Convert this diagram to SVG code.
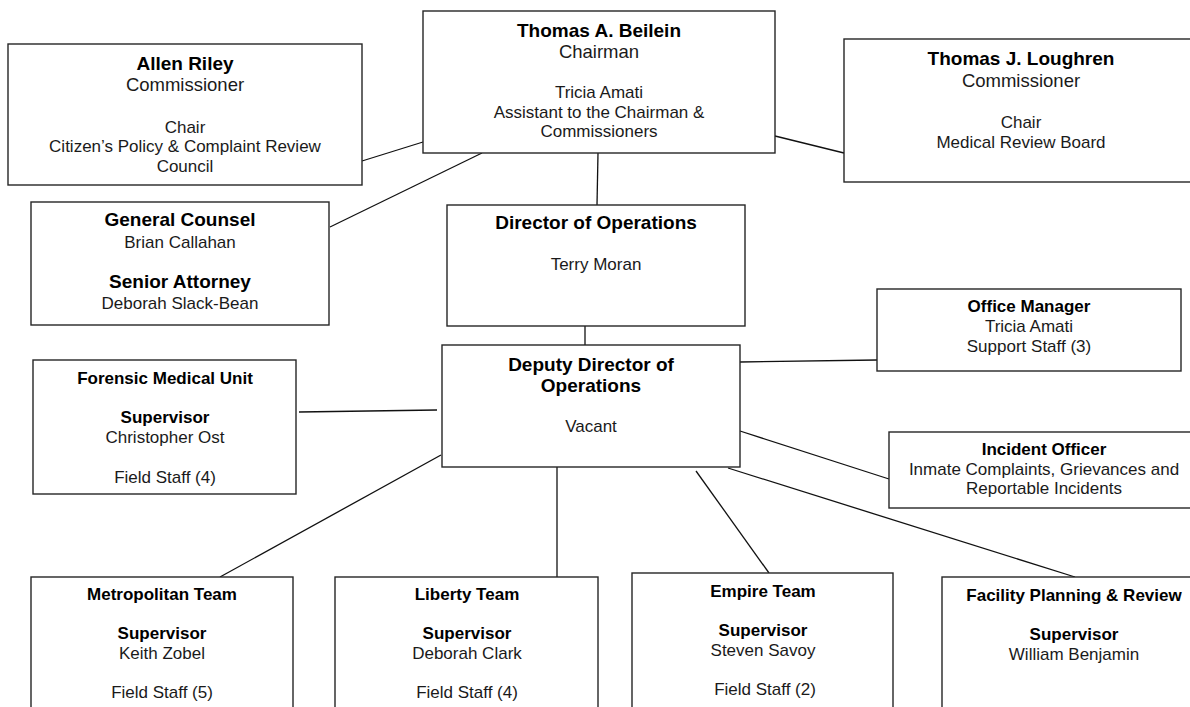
<svg xmlns="http://www.w3.org/2000/svg" width="1190" height="707" viewBox="0 0 1190 707">
<style>
.box{fill:#fff;stroke:#262626;stroke-width:1.4}
text{font-family:"Liberation Sans",Arial,sans-serif;text-anchor:middle;fill:#1a1a1a}
.h1{font-size:19px;font-weight:bold;fill:#000}
.s1{font-size:18.5px}
.h2{font-size:17px;font-weight:bold;fill:#000}
.t{font-size:17px}
.ln{stroke:#111;stroke-width:1.3;fill:none}
</style>
<rect width="1190" height="707" fill="#fff"/>
<g id="connectors">
<line class="ln" x1="362" y1="161" x2="423" y2="142"/>
<line class="ln" x1="330" y1="227" x2="482" y2="153"/>
<line class="ln" x1="598" y1="153" x2="597" y2="205"/>
<line class="ln" x1="775" y1="136" x2="844" y2="153"/>
<line class="ln" x1="585" y1="326" x2="585" y2="345"/>
<line class="ln" x1="740" y1="362" x2="877" y2="360"/>
<line class="ln" x1="299" y1="412" x2="437" y2="410"/>
<line class="ln" x1="740" y1="431" x2="889" y2="479"/>
<line class="ln" x1="441" y1="455" x2="220" y2="577"/>
<line class="ln" x1="557" y1="467" x2="557" y2="577"/>
<line class="ln" x1="696" y1="471" x2="769" y2="573"/>
<line class="ln" x1="728" y1="468" x2="1075" y2="577"/>
</g>
<g id="riley">
<rect class="box" x="8" y="44" width="354" height="141"/>
<text x="185" y="70" class="h1">Allen Riley</text>
<text x="185" y="91" class="s1">Commissioner</text>
<text x="185" y="133" class="t">Chair</text>
<text x="185" y="152" class="t">Citizen’s Policy &amp; Complaint Review</text>
<text x="185" y="172" class="t">Council</text>
</g>
<g id="beilein">
<rect class="box" x="423" y="11" width="352" height="142"/>
<text x="599" y="37" class="h1">Thomas A. Beilein</text>
<text x="599" y="58" class="s1">Chairman</text>
<text x="599" y="98" class="t">Tricia Amati</text>
<text x="599" y="118" class="t">Assistant to the Chairman &amp;</text>
<text x="599" y="137" class="t">Commissioners</text>
</g>
<g id="loughren">
<rect class="box" x="844" y="39" width="360" height="143"/>
<text x="1021" y="65" class="h1">Thomas J. Loughren</text>
<text x="1021" y="87" class="s1">Commissioner</text>
<text x="1021" y="128" class="t">Chair</text>
<text x="1021" y="148" class="t">Medical Review Board</text>
</g>
<g id="counsel">
<rect class="box" x="31" y="202" width="298" height="123"/>
<text x="180" y="226" class="h1">General Counsel</text>
<text x="180" y="248" class="t">Brian Callahan</text>
<text x="180" y="288" class="h1">Senior Attorney</text>
<text x="180" y="309" class="t">Deborah Slack-Bean</text>
</g>
<g id="director">
<rect class="box" x="447" y="205" width="298" height="121"/>
<text x="596" y="229" class="h1">Director of Operations</text>
<text x="596" y="270" class="t">Terry Moran</text>
</g>
<g id="deputy">
<rect class="box" x="442" y="345" width="298" height="122"/>
<text x="591" y="371" class="h1">Deputy Director of</text>
<text x="591" y="392" class="h1">Operations</text>
<text x="591" y="432" class="t">Vacant</text>
</g>
<g id="office">
<rect class="box" x="877" y="289" width="304" height="82"/>
<text x="1029" y="312" class="h2">Office Manager</text>
<text x="1029" y="332" class="t">Tricia Amati</text>
<text x="1029" y="352" class="t">Support Staff (3)</text>
</g>
<g id="incident">
<rect class="box" x="889" y="432" width="310" height="76"/>
<text x="1044" y="455" class="h2">Incident Officer</text>
<text x="1044" y="475" class="t">Inmate Complaints, Grievances and</text>
<text x="1044" y="494" class="t">Reportable Incidents</text>
</g>
<g id="forensic">
<rect class="box" x="33" y="360" width="263" height="134"/>
<text x="165" y="384" class="h2">Forensic Medical Unit</text>
<text x="165" y="423" class="h2">Supervisor</text>
<text x="165" y="443" class="t">Christopher Ost</text>
<text x="165" y="483" class="t">Field Staff (4)</text>
</g>
<g id="metropolitan">
<rect class="box" x="31" y="577" width="262" height="140"/>
<text x="162" y="600" class="h2">Metropolitan Team</text>
<text x="162" y="639" class="h2">Supervisor</text>
<text x="162" y="659" class="t">Keith Zobel</text>
<text x="162" y="698" class="t">Field Staff (5)</text>
</g>
<g id="liberty">
<rect class="box" x="335" y="577" width="263" height="140"/>
<text x="467" y="600" class="h2">Liberty Team</text>
<text x="467" y="639" class="h2">Supervisor</text>
<text x="467" y="659" class="t">Deborah Clark</text>
<text x="467" y="698" class="t">Field Staff (4)</text>
</g>
<g id="empire">
<rect class="box" x="632" y="573" width="261" height="144"/>
<text x="763" y="597" class="h2">Empire Team</text>
<text x="763" y="636" class="h2">Supervisor</text>
<text x="763" y="656" class="t">Steven Savoy</text>
<text x="765" y="695" class="t">Field Staff (2)</text>
</g>
<g id="facility">
<rect class="box" x="942" y="577" width="262" height="140"/>
<text x="1074" y="601" class="h2">Facility Planning &amp; Review</text>
<text x="1074" y="640" class="h2">Supervisor</text>
<text x="1074" y="660" class="t">William Benjamin</text>
</g>
</svg>
